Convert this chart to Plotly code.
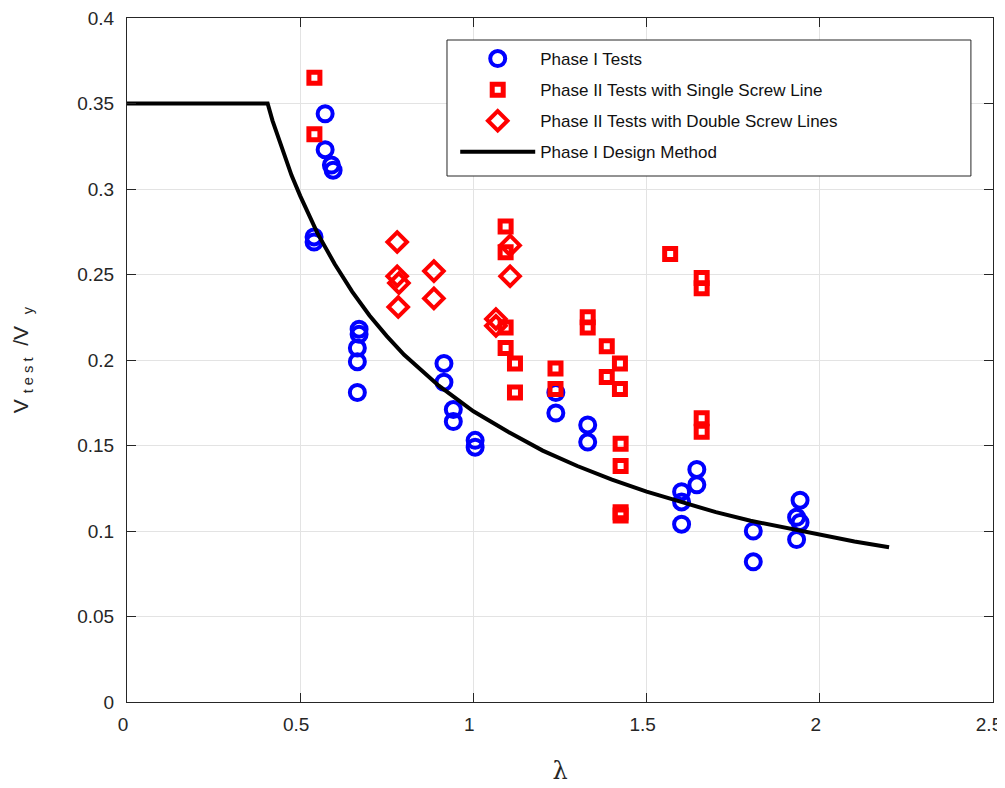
import plotly.graph_objects as go

# Phase I tests (blue circles)
p1_x = [0.572, 0.572, 0.590, 0.595, 0.540, 0.540, 0.670, 0.670, 0.665, 0.665, 0.665,
        0.915, 0.915, 0.942, 0.942, 1.005, 1.005, 1.238, 1.238, 1.330, 1.330,
        1.601, 1.601, 1.601, 1.645, 1.645, 1.808, 1.808, 1.943, 1.933, 1.943, 1.933]
p1_y = [0.344, 0.323, 0.314, 0.311, 0.272, 0.269, 0.218, 0.215, 0.207, 0.199, 0.181,
        0.198, 0.187, 0.171, 0.164, 0.153, 0.149, 0.181, 0.169, 0.162, 0.152,
        0.123, 0.117, 0.104, 0.136, 0.127, 0.100, 0.082, 0.118, 0.108, 0.105, 0.095]

# Phase II single screw line (red squares)
p2s_x = [0.541, 0.541, 1.093, 1.093, 1.093, 1.093, 1.120, 1.120, 1.237, 1.237,
         1.330, 1.330, 1.385, 1.423, 1.385, 1.423, 1.425, 1.425, 1.425, 1.425,
         1.568, 1.659, 1.659, 1.659, 1.659]
p2s_y = [0.365, 0.332, 0.278, 0.263, 0.219, 0.207, 0.198, 0.181, 0.195, 0.183,
         0.225, 0.219, 0.208, 0.198, 0.190, 0.183, 0.151, 0.138, 0.111, 0.109,
         0.262, 0.248, 0.242, 0.166, 0.158]

# Phase II double screw lines (red diamonds)
p2d_x = [0.780, 0.780, 0.785, 0.783, 0.886, 0.886, 1.065, 1.065, 1.106, 1.106]
p2d_y = [0.269, 0.249, 0.245, 0.231, 0.252, 0.236, 0.224, 0.220, 0.267, 0.249]

# Phase I design method
dm_x = [0, 0.406, 0.42, 0.45, 0.475, 0.5, 0.55, 0.6, 0.65, 0.7, 0.75, 0.8, 0.9,
        1.0, 1.1, 1.2, 1.3, 1.4, 1.5, 1.6, 1.7, 1.8, 1.9, 2.0, 2.1, 2.2]
dm_y = [0.35, 0.35, 0.340, 0.322, 0.308, 0.296, 0.274, 0.256, 0.240, 0.226, 0.214,
        0.203, 0.185, 0.170, 0.158, 0.147, 0.138, 0.130, 0.123, 0.117, 0.111,
        0.106, 0.102, 0.0976, 0.0939, 0.0905]

NB = "\u00a0"
x_ticks = [0, 0.5, 1, 1.5, 2, 2.5]
x_labels = ["0", "0.5", "1", "1.5", "2", "2.5"]
y_ticks = [0, 0.05, 0.1, 0.15, 0.2, 0.25, 0.3, 0.35, 0.4]
y_labels = ["0", "0.05", "0.1", "0.15", "0.2", "0.25", "0.3", "0.35", "0.4"]

names = ["Phase I Tests", "Phase II Tests with Single Screw Line",
         "Phase II Tests with Double Screw Lines", "Phase I Design Method"]

FONT = "Liberation Sans, Arial, sans-serif"
y_title = "V" + NB + "<sub>t e s t</sub>" + NB * 2 + "/V" + NB * 2 + "<sub>y</sub>"

fig = go.Figure()
fig.add_trace(go.Scatter(x=p1_x, y=p1_y, mode="markers", name=names[0], legendgroup="a",
                         marker=dict(symbol="circle-open", size=15, color="#0000ff",
                                     line=dict(width=4, color="#0000ff"))))
fig.add_trace(go.Scatter(x=p2s_x, y=p2s_y, mode="markers", name=names[1], legendgroup="b",
                         marker=dict(symbol="square-open", size=11, color="#ff0000",
                                     line=dict(width=5, color="#ff0000"))))
fig.add_trace(go.Scatter(x=p2d_x, y=p2d_y, mode="markers", name=names[2], legendgroup="c",
                         marker=dict(symbol="diamond-open", size=15, color="#ff0000",
                                     line=dict(width=4, color="#ff0000"))))
fig.add_trace(go.Scatter(x=dm_x, y=dm_y, mode="lines", name=names[3], legendgroup="d",
                         line=dict(color="black", width=4)))

axis_common = dict(showgrid=True, gridcolor="#e3e3e3", gridwidth=1, zeroline=False,
                   showline=True, linecolor="#262626", linewidth=1, mirror="ticks",
                   ticks="inside", ticklen=9, tickcolor="#262626", automargin=False,
                   ticklabeloverflow="allow",
                   tickfont=dict(family=FONT, size=19, color="#262626"))

fig.update_xaxes(range=[0, 2.5], tickvals=x_ticks, ticktext=x_labels, ticklabelstandoff=5,
                 ticklabelshift=-4,
                 title=dict(text="λ", font=dict(family="DejaVu Serif", size=24, color="#262626"),
                            standoff=28), **axis_common)
fig.update_yaxes(range=[0, 0.4], tickvals=y_ticks, ticktext=y_labels, ticklabelstandoff=8,
                 title=dict(text=y_title,
                            font=dict(family=FONT, size=21, color="#262626"),
                            standoff=42), **axis_common)

fig.add_shape(type="rect", xref="paper", yref="paper", x0=0.3695, x1=0.9745,
              y0=(702 - 176) / 684, y1=(702 - 40) / 684, layer="above",
              fillcolor="white", line=dict(color="#262626", width=1))

fig.update_layout(
    width=997, height=780,
    margin=dict(l=119, r=12, t=10, b=86),
    plot_bgcolor="white", paper_bgcolor="white",
    font=dict(family=FONT, color="#262626"),
    legend=dict(x=0.379, y=(702 - 41) / 684, xanchor="left", yanchor="top",
                bgcolor="rgba(0,0,0,0)", borderwidth=0, traceorder="grouped",
                tracegroupgap=6, itemwidth=75,
                font=dict(family=FONT, size=17, color="#111111")),
)

fig.write_html("out.html")
